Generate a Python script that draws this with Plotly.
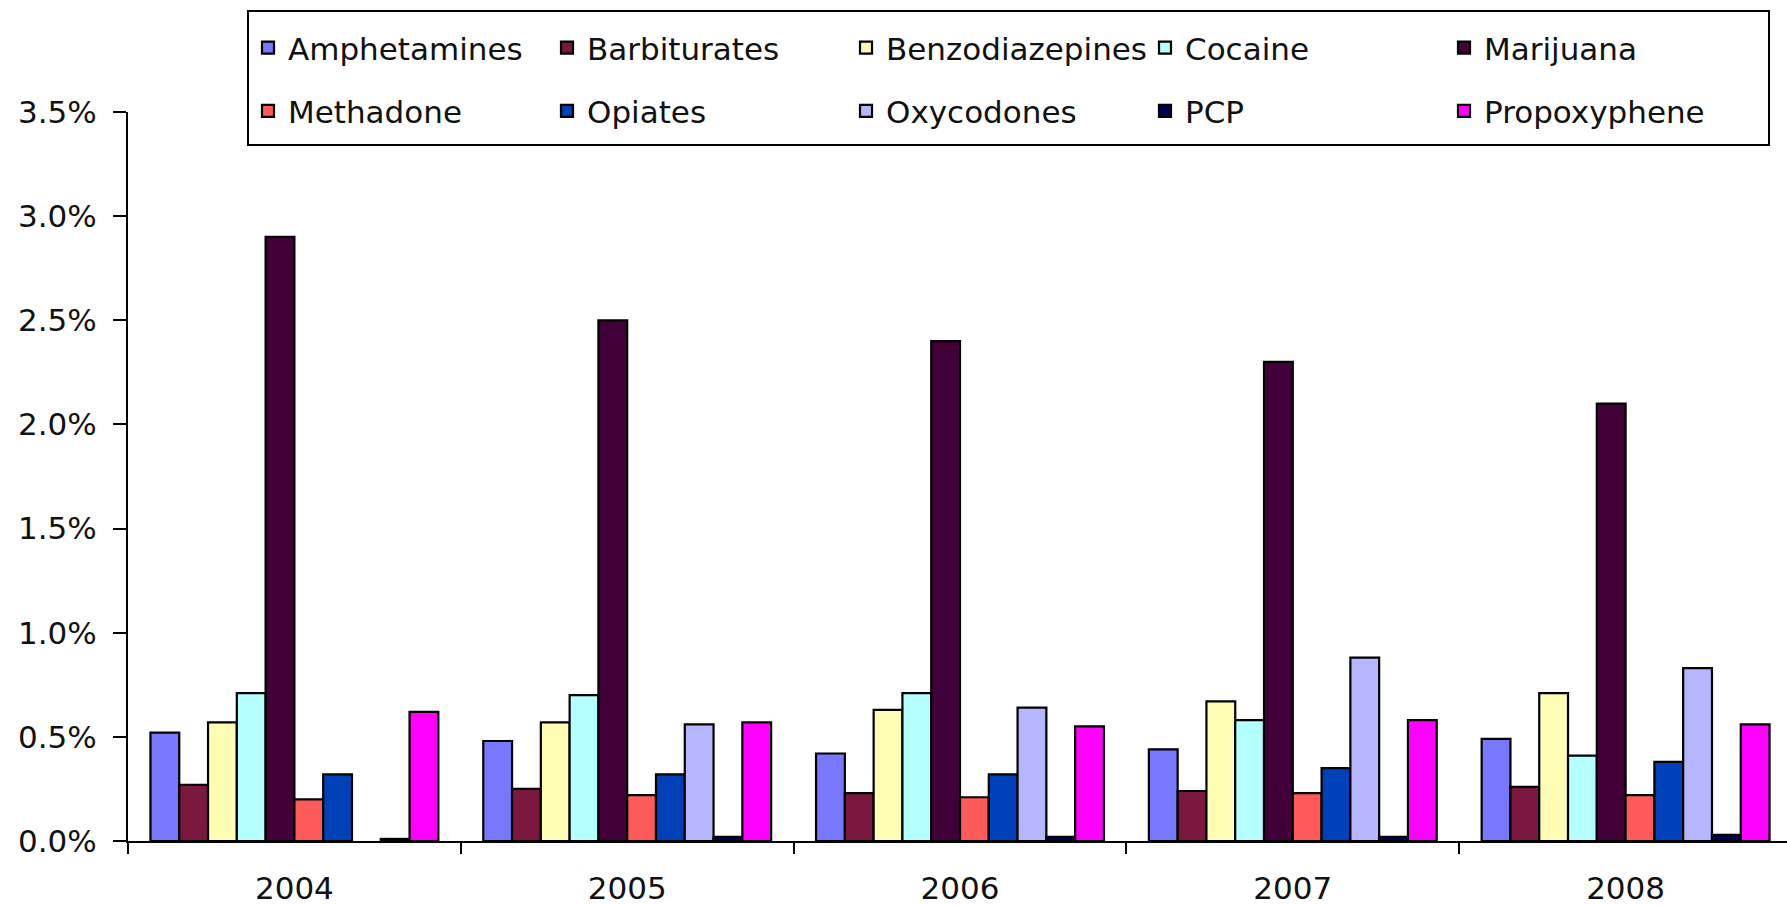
import plotly.graph_objects as go

# ---------------- data ----------------
years = ["2004", "2005", "2006", "2007", "2008"]

amphetamines = [0.52, 0.48, 0.42, 0.44, 0.49]
barbiturates = [0.27, 0.25, 0.23, 0.24, 0.26]
benzodiazepines = [0.57, 0.57, 0.63, 0.67, 0.71]
cocaine = [0.71, 0.70, 0.71, 0.58, 0.41]
marijuana = [2.90, 2.50, 2.40, 2.30, 2.10]
methadone = [0.20, 0.22, 0.21, 0.23, 0.22]
opiates = [0.32, 0.32, 0.32, 0.35, 0.38]
oxycodones = [None, 0.56, 0.64, 0.88, 0.83]
pcp = [0.01, 0.02, 0.02, 0.02, 0.03]
propoxyphene = [0.62, 0.57, 0.55, 0.58, 0.56]

drug_names = ["Amphetamines", "Barbiturates", "Benzodiazepines", "Cocaine", "Marijuana",
              "Methadone", "Opiates", "Oxycodones", "PCP", "Propoxyphene"]
y_tick_values = [0.0, 0.5, 1.0, 1.5, 2.0, 2.5, 3.0, 3.5]

# ---------------- styles ----------------
series = [amphetamines, barbiturates, benzodiazepines, cocaine, marijuana,
          methadone, opiates, oxycodones, pcp, propoxyphene]
colors = ["#7878FF", "#7A1840", "#FFFDB4", "#B4FFFF", "#420038",
          "#FF5A5A", "#0040B8", "#B6B6FF", "#000050", "#FF00FF"]

FONT = "DejaVu Sans"
FS = 31
TXT = "#111111"

fig = go.Figure()
for name, vals, col in zip(drug_names, series, colors):
    fig.add_trace(go.Bar(
        x=years, y=vals, name=name, legendgroup=name,
        marker=dict(color=col, line=dict(color="black", width=2.2)),
    ))

W, H = 1787, 905
L, R, T, B = 128, 0, 112, 64
plot_w = W - L - R
plot_h = H - T - B


def px_x(px):
    return (px - L) / plot_w


def px_y(py):
    return 1 - (py - T) / plot_h


# legend frame (pixel targets)
box_l, box_t, box_r, box_b = 248, 11, 1769, 145

fig.update_layout(
    width=W, height=H,
    margin=dict(l=L, r=R, t=T, b=B, autoexpand=False),
    paper_bgcolor="white", plot_bgcolor="white",
    barmode="group", bargap=0.135, bargroupgap=0,
    font=dict(family=FONT, size=FS, color=TXT),
    legend=dict(
        orientation="h",
        x=px_x(box_l), xanchor="left",
        y=px_y(21), yanchor="top",
        borderwidth=0, bgcolor="rgba(0,0,0,0)",
        font=dict(family=FONT, size=FS, color=TXT),
        traceorder="grouped", tracegroupgap=20,
        entrywidth=254, entrywidthmode="pixels",
        itemwidth=30,
    ),
    showlegend=True,
    shapes=[dict(
        type="rect", xref="paper", yref="paper",
        x0=px_x(box_l), x1=px_x(box_r), y0=px_y(box_b), y1=px_y(box_t),
        line=dict(color="black", width=2), fillcolor="rgba(0,0,0,0)",
        layer="above",
    )],
)

fig.update_xaxes(
    type="category",
    range=[-0.5, -0.5 + plot_w / 332.8],
    showline=True, linecolor="black", linewidth=2,
    ticks="outside", tickson="boundaries", ticklen=11, tickwidth=2, tickcolor="black",
    showgrid=False, zeroline=False,
    tickfont=dict(family=FONT, size=FS, color=TXT),
    ticklabelstandoff=19,
)
fig.update_yaxes(
    range=[0, 3.5],
    tickvals=y_tick_values,
    ticktext=[f"{v:.1f}%" for v in y_tick_values],
    showline=True, linecolor="black", linewidth=2,
    ticks="outside", ticklen=13, tickwidth=2, tickcolor="black",
    showgrid=False, zeroline=False,
    tickfont=dict(family=FONT, size=FS, color=TXT),
    ticklabelstandoff=10,
)

fig.write_html(
    "out.html",
    config={"displayModeBar": False},
    post_script="document.body.style.margin='0px';document.body.style.overflow='hidden';",
)
